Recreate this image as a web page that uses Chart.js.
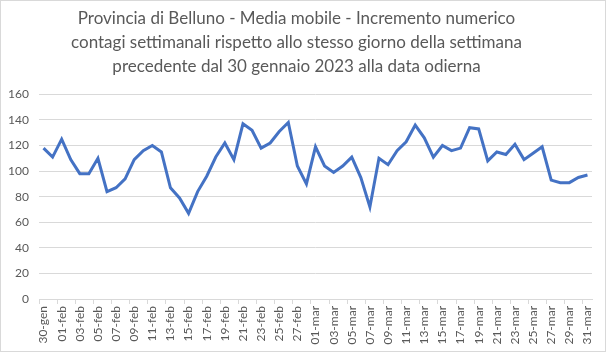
<!DOCTYPE html>
<html>
<head>
<meta charset="utf-8">
<script src="https://cdn.jsdelivr.net/npm/chart.js@4"></script>
<style>
  html, body { margin: 0; padding: 0; background: #ffffff; }
  #wrap { width: 606px; height: 352px; box-sizing: border-box; border: 1px solid #d9d9d9; }
  canvas { display: block; }
</style>
</head>
<body>
<div id="wrap"><canvas id="chart" width="604" height="350"></canvas></div>
<script>
const TITLE_LINES = [
  "Provincia di Belluno - Media mobile - Incremento numerico",
  "contagi settimanali rispetto allo stesso giorno della settimana",
  "precedente dal 30 gennaio 2023 alla data odierna"
];

// 30 gen .. 31 mar 2023
const DATES = [
  "30-gen", "31-gen",
  "01-feb", "02-feb", "03-feb", "04-feb", "05-feb", "06-feb", "07-feb", "08-feb", "09-feb", "10-feb",
  "11-feb", "12-feb", "13-feb", "14-feb", "15-feb", "16-feb", "17-feb", "18-feb", "19-feb", "20-feb",
  "21-feb", "22-feb", "23-feb", "24-feb", "25-feb", "26-feb", "27-feb", "28-feb",
  "01-mar", "02-mar", "03-mar", "04-mar", "05-mar", "06-mar", "07-mar", "08-mar", "09-mar", "10-mar",
  "11-mar", "12-mar", "13-mar", "14-mar", "15-mar", "16-mar", "17-mar", "18-mar", "19-mar", "20-mar",
  "21-mar", "22-mar", "23-mar", "24-mar", "25-mar", "26-mar", "27-mar", "28-mar", "29-mar", "30-mar",
  "31-mar"
];

const MEDIA_MOBILE = [
  118, 111, 125, 109, 98, 98, 110, 84, 87, 94, 109,
  116, 120, 115, 87, 79, 67, 84, 96, 111, 122,
  109, 137, 132, 118, 122, 131, 138, 104, 90,
  119, 104, 99, 104, 111, 95, 72, 110, 105, 116,
  123, 136, 126, 111, 120, 116, 118, 134, 133, 108,
  115, 113, 121, 109, 114, 119, 93, 91, 91, 95,
  97
];

const Y_MIN = 0;
const Y_MAX = 160;
const Y_STEP = 20;

const GRAY_TEXT = "#595959";
const GRID = "#d9d9d9";

new Chart(
  document.getElementById("chart"),
  {
    type: "line",
    data: {
      labels: DATES,
      datasets: [
        {
          data: MEDIA_MOBILE,
          borderColor: "#4472c4",
          borderWidth: 3,
          pointRadius: 0,
          tension: 0,
          fill: false
        }
      ]
    },
    options: {
      responsive: false,
      animation: false,
      layout: {
        padding: { left: 0, right: 13, top: 0, bottom: 3 }
      },
      plugins: {
        legend: { display: false },
        tooltip: { enabled: false },
        title: {
          display: true,
          text: TITLE_LINES,
          color: GRAY_TEXT,
          font: { family: "Lato", size: 17, weight: "normal", lineHeight: 1.4 },
          padding: { top: 6, bottom: 16 }
        }
      },
      scales: {
        x: {
          type: "category",
          offset: true,
          grid: {
            display: true,
            offset: true,
            drawOnChartArea: false,
            tickLength: 5,
            color: ctx => (ctx.index % 2 === 0 ? GRID : "rgba(0,0,0,0)")
          },
          border: { display: true, color: GRID },
          ticks: {
            autoSkip: false,
            maxRotation: 90,
            minRotation: 90,
            color: GRAY_TEXT,
            font: { family: "Lato", size: 12 },
            padding: 2,
            callback: function (value, index) {
              return index % 2 === 0 ? this.getLabelForValue(value) : "";
            }
          },
          afterFit: scale => { scale.height = 49; }
        },
        y: {
          min: Y_MIN,
          max: Y_MAX,
          grid: { color: GRID, drawTicks: false },
          border: { display: false },
          ticks: {
            stepSize: Y_STEP,
            color: GRAY_TEXT,
            font: { family: "Lato", size: 12 },
            padding: 10
          },
          afterFit: scale => { scale.width = 38; }
        }
      }
    }
  }
);
</script>
</body>
</html>
